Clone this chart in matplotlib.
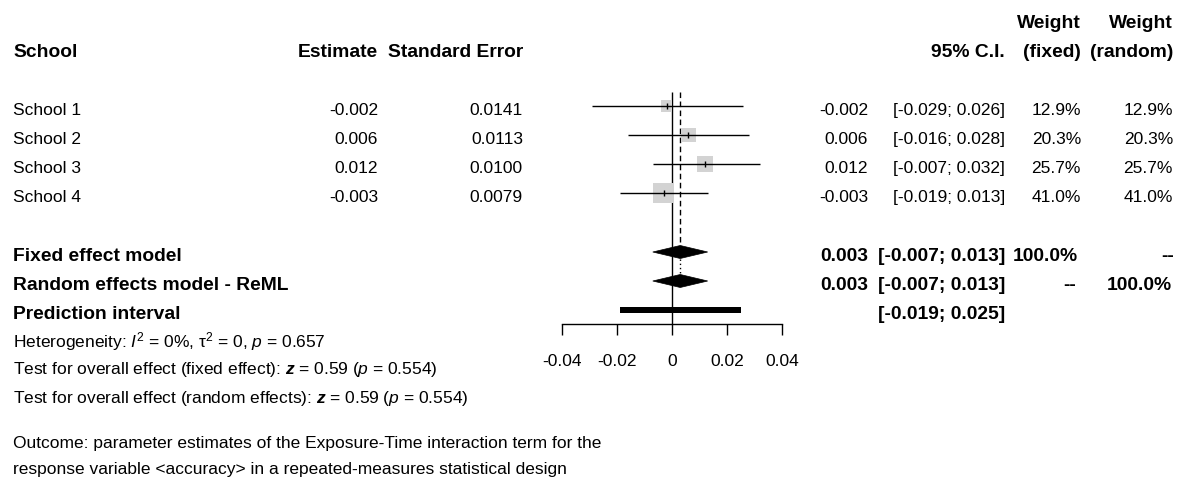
import numpy as np
import matplotlib
matplotlib.use("Agg")
import matplotlib.pyplot as plt
from matplotlib.transforms import blended_transform_factory
from matplotlib.patches import Polygon, Rectangle

# ---------------- data ----------------
schools = ["School 1", "School 2", "School 3", "School 4"]
estimates = [-0.002, 0.006, 0.012, -0.003]
std_errors = [0.0141, 0.0113, 0.0100, 0.0079]
ci_low = [-0.029, -0.016, -0.007, -0.019]
ci_high = [0.026, 0.028, 0.032, 0.013]
weight_fixed = [12.9, 20.3, 25.7, 41.0]
weight_random = [12.9, 20.3, 25.7, 41.0]

fixed_est, fixed_lo, fixed_hi = 0.003, -0.007, 0.013
random_est, random_lo, random_hi = 0.003, -0.007, 0.013
pred_lo, pred_hi = -0.019, 0.025

het_i2, het_tau2, het_p = "0%", "0", "0.657"
z_fixed, p_fixed = "0.59", "0.554"
z_random, p_random = "0.59", "0.554"

axis_ticks = [-0.04, -0.02, 0, 0.02, 0.04]
axis_tick_labels = ["-0.04", "-0.02", "0", "0.02", "0.04"]

outcome_lines = [
    "Outcome: parameter estimates of the Exposure-Time interaction term for the",
    "response variable <accuracy> in a repeated-measures statistical design",
]

# ---------------- style ----------------
plt.rcParams["font.family"] = ["Liberation Sans", "DejaVu Sans"]
plt.rcParams["mathtext.fontset"] = "custom"
plt.rcParams["mathtext.rm"] = "Liberation Sans"
plt.rcParams["mathtext.it"] = "Liberation Sans:italic"
plt.rcParams["mathtext.bf"] = "Liberation Sans:bold"
plt.rcParams["mathtext.bfit"] = "Liberation Sans:italic:bold"

FS = 12.5      # regular text
FSB = 13.9     # bold text

W, H = 1183, 483
fig = plt.figure(figsize=(W / 100, H / 100), dpi=100)
ax = fig.add_axes([0, 0, 1, 1])
X0 = 672.0     # pixel position of value 0
PPU = 2745.0   # pixels per unit
ax.set_xlim(-X0 / PPU, (W - X0) / PPU)
ax.set_ylim(H, 0)
ax.axis("off")

tr = blended_transform_factory(fig.transFigure, ax.transData)


def txt(xpx, y, s, ha="left", bold=False):
    ax.text(xpx / W, y, s, transform=tr, ha=ha, va="baseline",
            fontsize=FSB if bold else FS,
            fontweight="bold" if bold else "normal", color="black")


# ---------------- headers ----------------
txt(13, 57, "School", bold=True)
txt(378, 57, "Estimate", ha="right", bold=True)
txt(523, 57, "Standard Error", ha="right", bold=True)
txt(1005, 57, "95% C.I.", ha="right", bold=True)
txt(1081, 28, "Weight", ha="right", bold=True)
txt(1081, 57, "(fixed)", ha="right", bold=True)
txt(1173, 28, "Weight", ha="right", bold=True)
txt(1173, 57, "(random)", ha="right", bold=True)

# ---------------- study rows ----------------
rows = np.array([106 + 29 * i for i in range(len(schools))], dtype=float)
off = 9
for i, name in enumerate(schools):
    y = rows[i] + off
    txt(13, y, name)
    txt(378, y, f"{estimates[i]:.3f}", ha="right")
    txt(523, y, f"{std_errors[i]:.4f}", ha="right")
    txt(868, y, f"{estimates[i]:.3f}", ha="right")
    txt(1005, y, f"[{ci_low[i]:.3f}; {ci_high[i]:.3f}]", ha="right")
    txt(1081, y, f"{weight_fixed[i]:.1f}%", ha="right")
    txt(1173, y, f"{weight_random[i]:.1f}%", ha="right")

# squares (area ~ weight)
side_px = 3.25 * np.sqrt(np.array(weight_fixed))
side_pt = side_px * 0.72
ax.scatter(estimates, rows, marker="s", s=side_pt ** 2, color="#d3d3d3",
           edgecolors="none", zorder=2)
ax.hlines(rows, ci_low, ci_high, color="black", lw=1.0, zorder=3)
ax.vlines(estimates, rows - 3, rows + 3, color="black", lw=1.0, zorder=4)

# ---------------- summary rows ----------------
y_fixed, y_random, y_pred = 252, 281, 310
txt(13, y_fixed + off, "Fixed effect model", bold=True)
txt(13, y_random + off, "Random effects model - ReML", bold=True)
txt(13, y_pred + off, "Prediction interval", bold=True)

txt(868, y_fixed + off, f"{fixed_est:.3f}", ha="right", bold=True)
txt(1005, y_fixed + off, f"[{fixed_lo:.3f}; {fixed_hi:.3f}]", ha="right", bold=True)
txt(1078, y_fixed + off, "100.0%", ha="right", bold=True)
txt(1174, y_fixed + off, "--", ha="right", bold=True)

txt(868, y_random + off, f"{random_est:.3f}", ha="right", bold=True)
txt(1005, y_random + off, f"[{random_lo:.3f}; {random_hi:.3f}]", ha="right", bold=True)
txt(1076, y_random + off, "--", ha="right", bold=True)
txt(1172, y_random + off, "100.0%", ha="right", bold=True)

txt(1005, y_pred + off, f"[{pred_lo:.3f}; {pred_hi:.3f}]", ha="right", bold=True)

dh = 6.5
for est, lo, hi, y in [(fixed_est, fixed_lo, fixed_hi, y_fixed),
                       (random_est, random_lo, random_hi, y_random)]:
    ax.add_patch(Polygon([[lo, y], [est, y - dh], [hi, y], [est, y + dh]],
                         closed=True, facecolor="black", edgecolor="black",
                         lw=0.5, zorder=5))
ax.add_patch(Rectangle((pred_lo, y_pred - 3), pred_hi - pred_lo, 6,
                       facecolor="black", edgecolor="none", zorder=5))

# reference lines
y_top, y_axis = 92, 324
ax.vlines(0, y_top, y_axis, color="black", lw=1.0, zorder=1)
ax.plot([fixed_est, fixed_est], [y_top, y_fixed - dh], color="black", lw=1.0,
        ls=(0, (4, 2.5)), zorder=1)
ax.plot([random_est, random_est], [y_fixed + dh, y_random - dh], color="black", lw=1.0,
        ls=(0, (1, 2)), zorder=1)

# x axis
ax.plot([axis_ticks[0], axis_ticks[-1]], [y_axis, y_axis], color="black", lw=1.0)
ax.vlines(axis_ticks, y_axis, y_axis + 11, color="black", lw=1.0)
for t, lab in zip(axis_ticks, axis_tick_labels):
    ax.text(t, 366, lab, ha="center", va="baseline", fontsize=FS)

# ---------------- bottom text ----------------
txt(13, 347, r"Heterogeneity: $\mathit{I}^{2}$ = " + het_i2 + r", $\mathrm{\tau}^{2}$ = "
    + het_tau2 + r", $\mathit{p}$ = " + het_p)
txt(13, 374, r"Test for overall effect (fixed effect): $\mathbfit{z}$ = " + z_fixed
    + r" ($\mathit{p}$ = " + p_fixed + ")")
txt(13, 403, r"Test for overall effect (random effects): $\mathbfit{z}$ = " + z_random
    + r" ($\mathit{p}$ = " + p_random + ")")
txt(13, 448, outcome_lines[0])
txt(13, 474, outcome_lines[1])

fig.savefig("out.png", dpi=100)
